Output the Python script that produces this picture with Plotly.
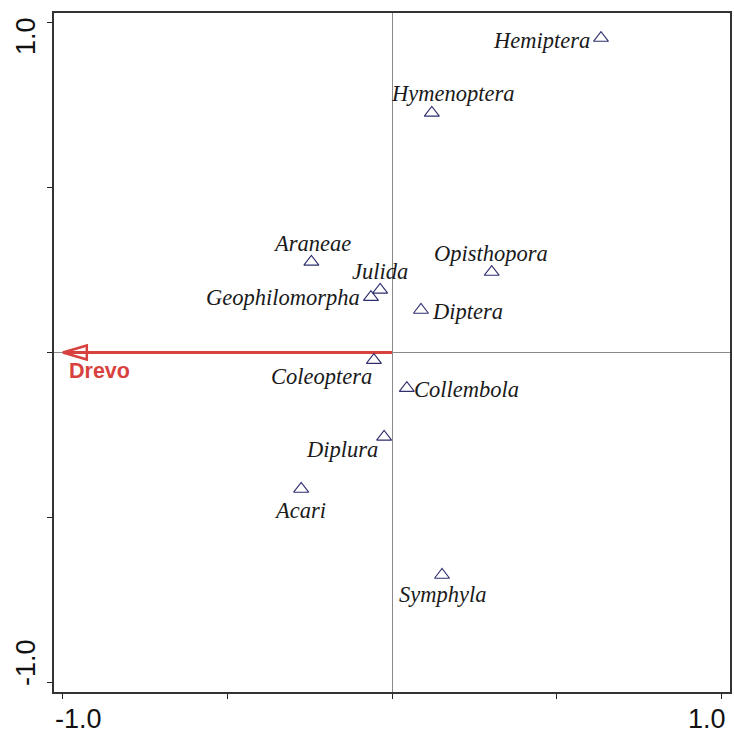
import math
import plotly.graph_objects as go

# Species scores on the first two ordination axes
species = ["Hemiptera", "Hymenoptera", "Araneae", "Opisthopora", "Julida",
           "Geophilomorpha", "Diptera", "Coleoptera", "Collembola", "Diplura",
           "Acari", "Symphyla"]
axis1 = [0.635, 0.121, -0.245, 0.303, -0.036, -0.064, 0.088, -0.055, 0.045,
         -0.024, -0.276, 0.152]
axis2 = [0.954, 0.727, 0.275, 0.244, 0.190, 0.168, 0.129, -0.023, -0.108,
         -0.256, -0.414, -0.675]

# Environmental variable arrow
env_name = "Drevo"
env_x = -1.0
env_y = 0.0

# Axis tick labels
tick_vals = [-1.0, -0.5, 0.0, 0.5, 1.0]
x_tick_labels = ["-1.0", "1.0"]
y_tick_labels = ["-1.0", "1.0"]

# Label placement relative to each marker: (xanchor, xshift, yshift) in pixels
label_place = {
    "Hemiptera": ("right", -10, -2),
    "Hymenoptera": ("center", 21, 19),
    "Araneae": ("center", 1, 18),
    "Opisthopora": ("center", -1, 19),
    "Julida": ("center", 0, 18),
    "Geophilomorpha": ("right", -10, 0),
    "Diptera": ("left", 10, -2),
    "Coleoptera": ("right", -1, -16),
    "Collembola": ("left", 6, -1),
    "Diplura": ("right", -5, -13),
    "Acari": ("center", -1, -22),
    "Symphyla": ("center", 0, -20),
}

RED = "#d8423e"
NAVY = "#2e2e6e"
SERIF = "Liberation Serif, Times New Roman, serif"
SANS = "Liberation Sans, Arial, sans-serif"

W, H = 734, 734
M_L, M_R, M_T, M_B = 54, 2, 13, 42
X_RANGE = [-1.027, 1.027]
Y_RANGE = [-1.03, 1.03]
px_per_x = (W - M_L - M_R) / (X_RANGE[1] - X_RANGE[0])
px_per_y = (H - M_T - M_B) / (Y_RANGE[1] - Y_RANGE[0])

fig = go.Figure()

# Arrow shaft
fig.add_trace(go.Scatter(
    x=[0, env_x], y=[0, env_y], mode="lines",
    line=dict(color=RED, width=3), hoverinfo="skip", showlegend=False))

# Open arrowhead built from the arrow direction (in pixel space)
dx_px = env_x * px_per_x
dy_px = env_y * px_per_y
length = math.hypot(dx_px, dy_px)
ux, uy = dx_px / length, dy_px / length
head_len, head_half = 24, 7
bx, by = -ux * head_len, -uy * head_len
px_, py_ = -uy * head_half, ux * head_half
head_x = [env_x,
          env_x + (bx + px_) / px_per_x,
          env_x + (bx - px_) / px_per_x,
          env_x]
head_y = [env_y,
          env_y + (by + py_) / px_per_y,
          env_y + (by - py_) / px_per_y,
          env_y]
fig.add_trace(go.Scatter(
    x=head_x, y=head_y, mode="lines",
    line=dict(color=RED, width=2.5), hoverinfo="skip", showlegend=False))

# Species markers
fig.add_trace(go.Scatter(
    x=axis1, y=axis2, mode="markers",
    marker=dict(symbol="triangle-up-open", size=13,
                line=dict(color=NAVY, width=1.1), color=NAVY),
    hoverinfo="text", text=species, showlegend=False))

annotations = []
for name, xv, yv in zip(species, axis1, axis2):
    anchor, xs, ys = label_place[name]
    annotations.append(dict(
        x=xv, y=yv, xref="x", yref="y", text=f"<i>{name}</i>",
        showarrow=False, xanchor=anchor, yanchor="middle",
        xshift=xs, yshift=ys, borderpad=0,
        font=dict(family=SERIF, size=22.5, color="#1a1a1a")))

annotations.append(dict(
    x=env_x, y=env_y, xref="x", yref="y", text=f"<b>{env_name}</b>",
    showarrow=False, xanchor="left", yanchor="middle",
    xshift=5, yshift=-18, borderpad=0,
    font=dict(family=SANS, size=21.5, color=RED)))

# End tick labels
tick_font = dict(family=SANS, size=27, color="#111111")
annotations += [
    dict(x=0, y=0, xref="paper", yref="paper", text=x_tick_labels[0],
         showarrow=False, xanchor="left", yanchor="middle",
         xshift=-1, yshift=-27, font=tick_font),
    dict(x=1, y=0, xref="paper", yref="paper", text=x_tick_labels[1],
         showarrow=False, xanchor="right", yanchor="middle",
         xshift=-2, yshift=-27, font=tick_font),
    dict(x=0, y=0, xref="paper", yref="paper", text=y_tick_labels[0],
         showarrow=False, xanchor="center", yanchor="middle",
         textangle=-90, xshift=-28, yshift=29, font=tick_font),
    dict(x=0, y=1, xref="paper", yref="paper", text=y_tick_labels[1],
         showarrow=False, xanchor="center", yanchor="middle",
         textangle=-90, xshift=-28, yshift=-23, font=tick_font),
]

axis_common = dict(
    tickvals=tick_vals, ticktext=[""] * len(tick_vals),
    ticks="outside", ticklen=5, tickwidth=1, tickcolor="#222222",
    showgrid=False, zeroline=True, zerolinecolor="#8a8a8a", zerolinewidth=1,
    showline=True, linecolor="#333333", linewidth=1.5, mirror=True,
)

fig.update_layout(
    width=W, height=H,
    margin=dict(l=M_L, r=M_R, t=M_T, b=M_B),
    paper_bgcolor="white", plot_bgcolor="white",
    xaxis=dict(range=X_RANGE, **axis_common),
    yaxis=dict(range=Y_RANGE, **axis_common),
    annotations=annotations,
    showlegend=False,
)

fig.write_html("out.html")
